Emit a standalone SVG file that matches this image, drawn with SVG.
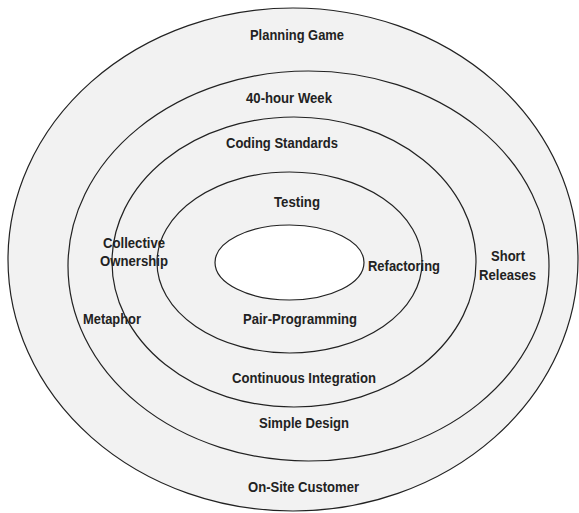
<svg xmlns="http://www.w3.org/2000/svg" width="579" height="513" viewBox="0 0 579 513">
  <style>
    .ring { fill: #f2f2f2; stroke: #222222; stroke-width: 1.2; }
    .core { fill: #ffffff; stroke: #222222; stroke-width: 1.2; }
    .lbl { font-family: "Liberation Sans Narrow", "Liberation Sans", Arial, sans-serif; font-weight: bold; font-size: 15.5px; fill: #222222; }
  </style>
  <rect x="0" y="0" width="579" height="513" fill="#ffffff"/>
  <g id="rings">
    <ellipse id="ring-outer" class="ring" cx="293" cy="259.5" rx="285" ry="251.5"/>
    <ellipse id="ring-2" class="ring" cx="308.5" cy="266" rx="240.5" ry="195"/>
    <ellipse id="ring-3" class="ring" cx="294" cy="262" rx="182" ry="145"/>
    <ellipse id="ring-4" class="ring" cx="289.5" cy="262.5" rx="132.5" ry="90.5"/>
    <ellipse id="core" class="core" cx="289.5" cy="262.5" rx="74.5" ry="37.5"/>
  </g>
  <g id="planning-game"><text class="lbl" x="250" y="39.5" textLength="94" lengthAdjust="spacingAndGlyphs">Planning Game</text></g>
  <g id="forty-hour-week"><text class="lbl" x="246" y="103" textLength="86" lengthAdjust="spacingAndGlyphs">40-hour Week</text></g>
  <g id="coding-standards"><text class="lbl" x="226" y="147.5" textLength="112" lengthAdjust="spacingAndGlyphs">Coding Standards</text></g>
  <g id="testing"><text class="lbl" x="274" y="206.5" textLength="46" lengthAdjust="spacingAndGlyphs">Testing</text></g>
  <g id="collective-ownership">
    <text class="lbl" x="103" y="247.5" textLength="62" lengthAdjust="spacingAndGlyphs">Collective</text>
    <text class="lbl" x="100" y="266" textLength="68" lengthAdjust="spacingAndGlyphs">Ownership</text>
  </g>
  <g id="refactoring"><text class="lbl" x="368" y="270.5" textLength="72" lengthAdjust="spacingAndGlyphs">Refactoring</text></g>
  <g id="short-releases">
    <text class="lbl" x="491" y="261" textLength="34" lengthAdjust="spacingAndGlyphs">Short</text>
    <text class="lbl" x="479" y="280" textLength="57" lengthAdjust="spacingAndGlyphs">Releases</text>
  </g>
  <g id="metaphor"><text class="lbl" x="83" y="324" textLength="58" lengthAdjust="spacingAndGlyphs">Metaphor</text></g>
  <g id="pair-programming"><text class="lbl" x="243" y="324" textLength="114" lengthAdjust="spacingAndGlyphs">Pair-Programming</text></g>
  <g id="continuous-integration"><text class="lbl" x="232" y="383" textLength="144" lengthAdjust="spacingAndGlyphs">Continuous Integration</text></g>
  <g id="simple-design"><text class="lbl" x="259" y="428" textLength="90" lengthAdjust="spacingAndGlyphs">Simple Design</text></g>
  <g id="on-site-customer"><text class="lbl" x="248" y="492" textLength="111" lengthAdjust="spacingAndGlyphs">On-Site Customer</text></g>
  <g id="connectors"></g>
</svg>
